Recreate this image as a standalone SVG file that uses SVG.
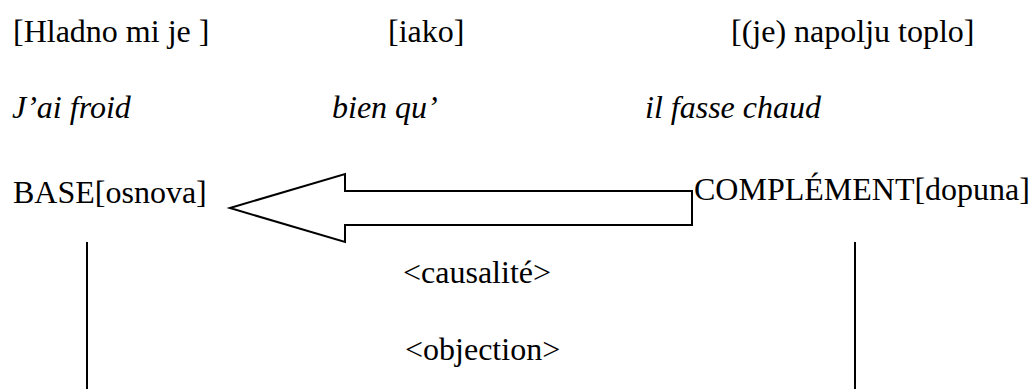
<svg xmlns="http://www.w3.org/2000/svg" width="1032" height="389" viewBox="0 0 1032 389">
<style>
text{font-size:32px;fill:#000}
.it{font-style:italic}
.ln{stroke:#000;stroke-width:2;fill:none}
</style>
<rect width="1032" height="389" fill="#fff"/>
<g font-family="Liberation Serif, Times New Roman, serif">
<g id="row-serbian">
<text x="13" y="42">[Hladno mi je ]</text>
<text x="388" y="42">[iako]</text>
<text x="731" y="42">[(je) napolju toplo]</text>
</g>
<g id="row-french">
<text class="it" x="12" y="118">J’ai froid</text>
<text class="it" x="332" y="118">bien qu’</text>
<text class="it" x="645" y="118">il fasse chaud</text>
</g>
<g id="base"><text x="13" y="203">BASE[osnova]</text></g>
<g id="complement"><text x="694" y="200">COMPLÉMENT[dopuna]</text></g>
<g id="connectors">
<polygon class="ln" points="230,208 345,174 345,191 692,191 692,225 345,225 345,242"/>
<line class="ln" x1="87" y1="242" x2="87" y2="389"/>
<line class="ln" x1="855" y1="242" x2="855" y2="389"/>
</g>
<g id="relations">
<text x="403" y="283">&lt;causalité&gt;</text>
<text x="405" y="360">&lt;objection&gt;</text>
</g>
</g>
</svg>
